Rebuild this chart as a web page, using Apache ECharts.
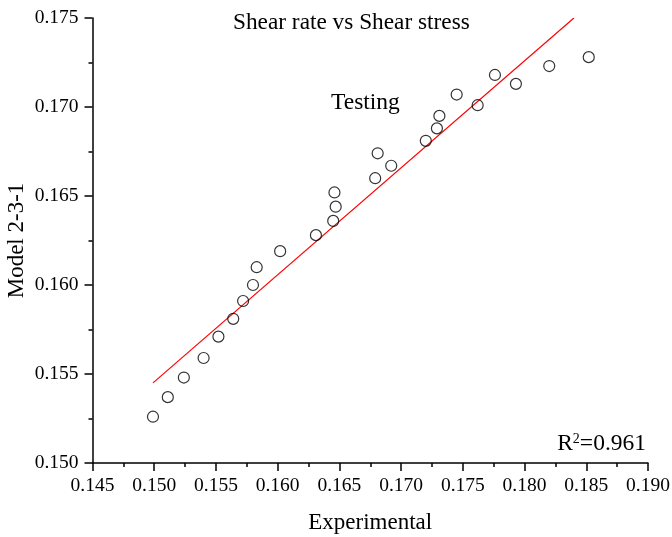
<!DOCTYPE html>
<html>
<head>
<meta charset="utf-8">
<script src="https://cdn.jsdelivr.net/npm/echarts@6/dist/echarts.min.js"></script>
<style>
  html, body { margin: 0; padding: 0; background: #fff; }
  #chart { width: 672px; height: 537px; }
</style>
</head>
<body>
<div id="chart"></div>
<script>
// Experimental vs. model predictions (testing set)
var experimental = [
  0.1499, 0.1511, 0.1524, 0.1540, 0.1552, 0.1564, 0.1572, 0.1580, 0.1583,
  0.1602, 0.1631, 0.1645, 0.1647, 0.1646, 0.1679, 0.1681, 0.1692, 0.1720,
  0.1729, 0.1731, 0.1745, 0.1762, 0.1776, 0.1793, 0.1820, 0.1852
];
var predicted = [
  0.1526, 0.1537, 0.1548, 0.1559, 0.1571, 0.1581, 0.1591, 0.1600, 0.1610,
  0.1619, 0.1628, 0.1636, 0.1644, 0.1652, 0.1660, 0.1674, 0.1667, 0.1681,
  0.1688, 0.1695, 0.1707, 0.1701, 0.1718, 0.1713, 0.1723, 0.1728
];
// Linear fit endpoints
var fitX = [0.1499, 0.1840];
var fitY = [0.1545, 0.1750];

var titleText = 'Shear rate vs Shear stress';
var subsetText = 'Testing';
var xName = 'Experimental';
var yName = 'Model 2-3-1';

var FONT = '"Liberation Serif", "Times New Roman", serif';

var points = experimental.map(function (x, i) { return [x, predicted[i]]; });
var fitLine = fitX.map(function (x, i) { return [x, fitY[i]]; });

var chart = echarts.init(document.getElementById('chart'), null, { renderer: 'canvas' });

var axisCommon = {
  type: 'value',
  interval: 0.005,
  axisLine: { show: true, onZero: false, lineStyle: { color: '#000', width: 1.5 } },
  axisTick: { show: true, inside: false, length: 8, lineStyle: { color: '#000', width: 1.5 } },
  minorTick: { show: true, splitNumber: 2, length: 4, lineStyle: { color: '#000', width: 1.5 } },
  splitLine: { show: false },
  minorSplitLine: { show: false },
  axisLabel: {
    color: '#000',
    fontFamily: FONT,
    fontSize: 19.5,
    formatter: function (v) { return v.toFixed(3); }
  },
  nameTextStyle: { color: '#000', fontFamily: FONT, fontSize: 23 }
};

chart.setOption({
  backgroundColor: '#fff',
  animation: false,
  grid: { left: 92.5, right: 24, top: 18, bottom: 74, containLabel: false, outerBoundsMode: 'none' },
  xAxis: Object.assign({}, axisCommon, {
    min: 0.145, max: 0.190,
    name: xName,
    nameLocation: 'middle',
    nameGap: 48,
    nameMoveOverlap: false,
    axisLabel: Object.assign({}, axisCommon.axisLabel, { margin: 13, showMaxLabel: true, showMinLabel: true })
  }),
  yAxis: Object.assign({}, axisCommon, {
    min: 0.150, max: 0.175,
    name: yName,
    nameLocation: 'middle',
    nameGap: 64,
    nameRotate: 90,
    nameMoveOverlap: false,
    axisLabel: Object.assign({}, axisCommon.axisLabel, { margin: 14 })
  }),
  graphic: [
    {
      type: 'text', left: 233, top: 11,
      style: { text: titleText, font: '23.3px ' + FONT, fill: '#000' }
    },
    {
      type: 'text', left: 331, top: 91,
      style: { text: subsetText, font: '23.5px ' + FONT, fill: '#000' }
    },
    {
      type: 'text', right: 26, top: 432,
      style: {
        text: '{b|R}{sup|2}{b|=0.961}',
        fill: '#000',
        rich: {
          b: { fontSize: 23.5, fontFamily: FONT, color: '#000' },
          sup: { fontSize: 14, fontFamily: FONT, color: '#000', verticalAlign: 'top', padding: [0, 0, 8, 0] }
        }
      }
    }
  ],
  series: [
    {
      type: 'scatter',
      data: points,
      symbol: 'circle',
      symbolSize: 11,
      itemStyle: { color: 'rgba(255,255,255,0)', borderColor: '#000', borderWidth: 1.2 },
      z: 3
    },
    {
      type: 'line',
      data: fitLine,
      showSymbol: false,
      symbol: 'none',
      lineStyle: { color: '#ff0000', width: 1.2 },
      z: 2
    }
  ]
});
</script>
</body>
</html>
